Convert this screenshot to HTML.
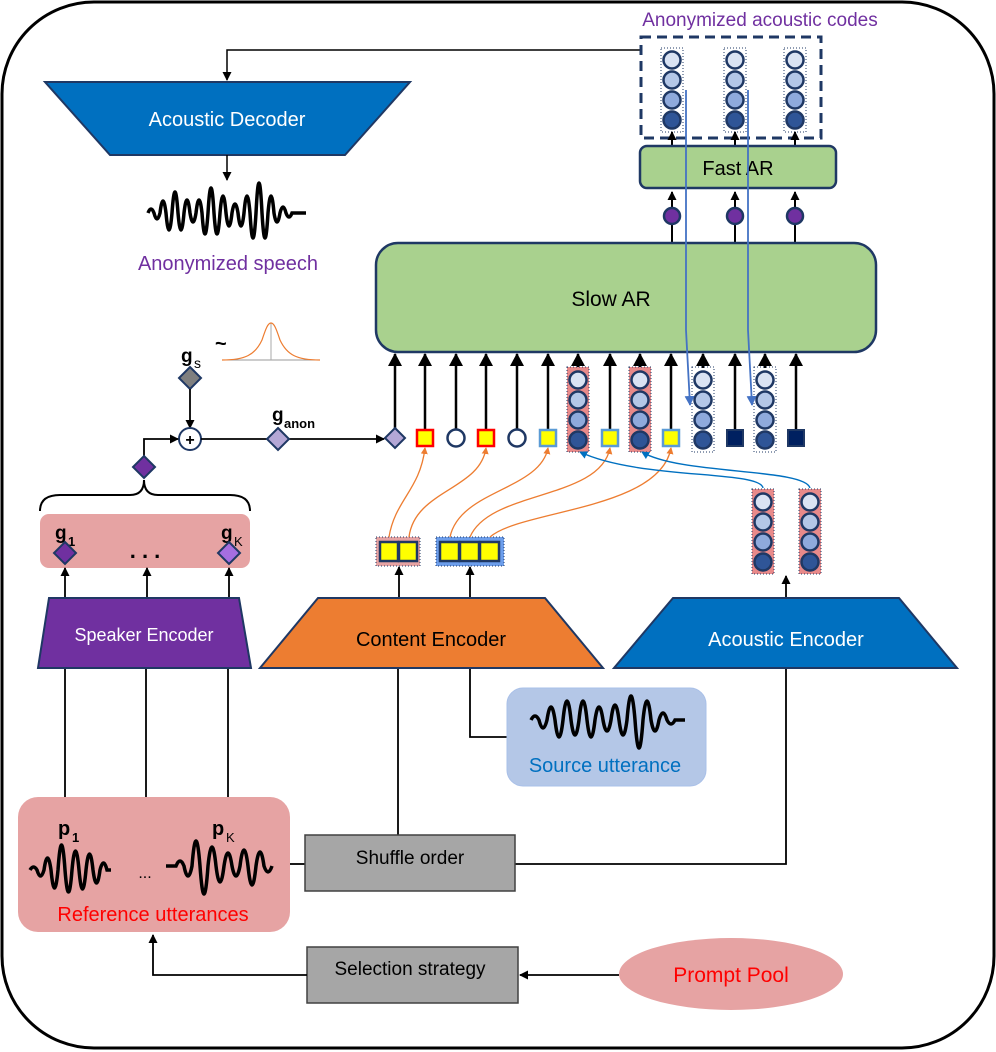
<!DOCTYPE html>
<html><head><meta charset="utf-8"><style>
html,body{margin:0;padding:0;background:#fff}
svg{display:block}
text{font-family:"Liberation Sans",sans-serif}
</style></head><body>
<svg width="996" height="1052" viewBox="0 0 996 1052" xmlns="http://www.w3.org/2000/svg">
<defs>
<marker id="ah" markerWidth="9" markerHeight="9" refX="8" refY="4.5" orient="auto" markerUnits="userSpaceOnUse"><path d="M0,0 L9,4.5 L0,9 z" fill="#000"/></marker>
<marker id="ahb" markerWidth="14" markerHeight="14" refX="12" refY="7" orient="auto" markerUnits="userSpaceOnUse"><path d="M0,0 L13,7 L0,14 z" fill="#000"/></marker>
<marker id="ao" markerWidth="7" markerHeight="7" refX="6" refY="3.5" orient="auto" markerUnits="userSpaceOnUse"><path d="M0,0 L7,3.5 L0,7 z" fill="#ed7d31"/></marker>
<marker id="abl" markerWidth="8" markerHeight="8" refX="7" refY="4" orient="auto" markerUnits="userSpaceOnUse"><path d="M0,0 L8,4 L0,8 z" fill="#0070c0"/></marker>
<marker id="abl2" markerWidth="10" markerHeight="10" refX="9" refY="5" orient="auto" markerUnits="userSpaceOnUse"><path d="M0,0 L10,5 L0,10 z" fill="#4472c4"/></marker>
<g id="col">
<circle cx="0" cy="0" r="8.5" fill="#dae3f3" stroke="#1f3864" stroke-width="2.5"/>
<circle cx="0" cy="20" r="8.5" fill="#b4c7e7" stroke="#1f3864" stroke-width="2.5"/>
<circle cx="0" cy="40" r="8.5" fill="#8faadc" stroke="#1f3864" stroke-width="2.5"/>
<circle cx="0" cy="60" r="8.5" fill="#2f5597" stroke="#1f3864" stroke-width="2.5"/>
</g>
</defs>

<rect x="2" y="2" width="992" height="1046" rx="92" fill="#fff" stroke="#000" stroke-width="3"/>

<!-- Acoustic decoder -->
<polyline points="641,50 227,50 227,80" fill="none" stroke="#000" stroke-width="1.5" marker-end="url(#ah)"/>
<polygon points="45,82 410,82 345,155 110,155" fill="#0070c0" stroke="#1f3864" stroke-width="2"/>
<text x="227" y="126" font-size="20" fill="#fff" text-anchor="middle">Acoustic Decoder</text>
<line x1="227" y1="155" x2="227" y2="180" stroke="#000" stroke-width="1.5" marker-end="url(#ah)"/>
<path d="M148,213 q3,-8 6,0 q3,12 6,0 q3,-24 6,0 q3,34 6,0 q3,-42 6,0 q3,34 6,0 q3,-26 6,0 q3,18 6,0 q3,-26 6,0 q3,42 6,0 q3,-50 6,0 q3,42 6,0 q3,-34 6,0 q3,26 6,0 q3,-18 6,0 q3,26 6,0 q3,-34 6,0 q3,50 6,0 q3,-60 6,0 q3,50 6,0 q3,-34 6,0 q3,18 6,0 q3,-12 6,0 q3,8 6,0 l14,0" fill="none" stroke="#000" stroke-width="3.5"/>
<text x="228" y="270" font-size="20" fill="#7030a0" text-anchor="middle">Anonymized speech</text>

<!-- Anonymized acoustic codes -->
<text x="760" y="26" font-size="19" fill="#7030a0" text-anchor="middle">Anonymized acoustic codes</text>
<rect x="641" y="37" width="180" height="101" fill="none" stroke="#1f3864" stroke-width="3" stroke-dasharray="10,6"/>
<g transform="translate(672,60)"><rect x="-11" y="-12" width="22" height="84" fill="none" stroke="#1f3864" stroke-dasharray="1,2"/><use href="#col"/></g>
<g transform="translate(735,60)"><rect x="-11" y="-12" width="22" height="84" fill="none" stroke="#1f3864" stroke-dasharray="1,2"/><use href="#col"/></g>
<g transform="translate(795,60)"><rect x="-11" y="-12" width="22" height="84" fill="none" stroke="#1f3864" stroke-dasharray="1,2"/><use href="#col"/></g>
<g stroke="#000" stroke-width="2">
<line x1="672" y1="146" x2="672" y2="132" marker-end="url(#ah)"/>
<line x1="735" y1="146" x2="735" y2="132" marker-end="url(#ah)"/>
<line x1="795" y1="146" x2="795" y2="132" marker-end="url(#ah)"/>
</g>
<rect x="640" y="146" width="196" height="42" rx="7" fill="#a9d18e" stroke="#1f3864" stroke-width="2.5"/>
<text x="738" y="175" font-size="20" fill="#000" text-anchor="middle">Fast AR</text>
<g stroke="#000" stroke-width="2">
<line x1="672" y1="243" x2="672" y2="192" marker-end="url(#ah)"/>
<line x1="735" y1="243" x2="735" y2="192" marker-end="url(#ah)"/>
<line x1="795" y1="243" x2="795" y2="192" marker-end="url(#ah)"/>
</g>
<circle cx="672" cy="216" r="8" fill="#7030a0" stroke="#1f3864" stroke-width="2.5"/>
<circle cx="735" cy="216" r="8" fill="#7030a0" stroke="#1f3864" stroke-width="2.5"/>
<circle cx="795" cy="216" r="8" fill="#7030a0" stroke="#1f3864" stroke-width="2.5"/>

<!-- Slow AR -->
<rect x="376" y="243" width="500" height="109" rx="22" fill="#a9d18e" stroke="#1f3864" stroke-width="2.5"/>
<text x="611" y="306" font-size="21" fill="#000" text-anchor="middle">Slow AR</text>

<!-- input arrows -->
<g stroke="#000" stroke-width="2.5">
<line x1="395" y1="430" x2="395" y2="354" marker-end="url(#ahb)"/>
<line x1="425" y1="430" x2="425" y2="354" marker-end="url(#ahb)"/>
<line x1="456" y1="430" x2="456" y2="354" marker-end="url(#ahb)"/>
<line x1="486" y1="430" x2="486" y2="354" marker-end="url(#ahb)"/>
<line x1="517" y1="430" x2="517" y2="354" marker-end="url(#ahb)"/>
<line x1="548" y1="430" x2="548" y2="354" marker-end="url(#ahb)"/>
<line x1="578" y1="368" x2="578" y2="354" marker-end="url(#ahb)"/>
<line x1="610" y1="430" x2="610" y2="354" marker-end="url(#ahb)"/>
<line x1="640" y1="368" x2="640" y2="354" marker-end="url(#ahb)"/>
<line x1="671" y1="430" x2="671" y2="354" marker-end="url(#ahb)"/>
<line x1="703" y1="368" x2="703" y2="354" marker-end="url(#ahb)"/>
<line x1="735" y1="430" x2="735" y2="354" marker-end="url(#ahb)"/>
<line x1="765" y1="368" x2="765" y2="354" marker-end="url(#ahb)"/>
<line x1="796" y1="430" x2="796" y2="354" marker-end="url(#ahb)"/>
</g>
<!-- tokens -->
<polygon points="395,428 405,438 395,448 385,438" fill="#b4a7d6" stroke="#1f3864" stroke-width="2"/>
<rect x="417" y="430" width="16" height="16" fill="#ffff00" stroke="#ff0000" stroke-width="2.5"/>
<circle cx="456" cy="438" r="8.5" fill="#fff" stroke="#1f3864" stroke-width="2.5"/>
<rect x="478" y="430" width="16" height="16" fill="#ffff00" stroke="#ff0000" stroke-width="2.5"/>
<circle cx="517" cy="438" r="8.5" fill="#fff" stroke="#1f3864" stroke-width="2.5"/>
<rect x="540" y="430" width="16" height="16" fill="#ffff00" stroke="#5b9bd5" stroke-width="2.5"/>
<g transform="translate(578,380)"><rect x="-11" y="-13" width="22" height="85" fill="#e88a8a" stroke="#1f3864" stroke-dasharray="1,2"/><use href="#col"/></g>
<rect x="602" y="430" width="16" height="16" fill="#ffff00" stroke="#5b9bd5" stroke-width="2.5"/>
<g transform="translate(640,380)"><rect x="-11" y="-13" width="22" height="85" fill="#e88a8a" stroke="#1f3864" stroke-dasharray="1,2"/><use href="#col"/></g>
<rect x="663" y="430" width="16" height="16" fill="#ffff00" stroke="#5b9bd5" stroke-width="2.5"/>
<g transform="translate(703,380)"><rect x="-11" y="-13" width="22" height="85" fill="none" stroke="#1f3864" stroke-dasharray="1,2"/><use href="#col"/></g>
<rect x="727" y="430" width="16" height="16" fill="#002060" stroke="#1f3864" stroke-width="2"/>
<g transform="translate(765,380)"><rect x="-11" y="-13" width="22" height="85" fill="none" stroke="#1f3864" stroke-dasharray="1,2"/><use href="#col"/></g>
<rect x="788" y="430" width="16" height="16" fill="#002060" stroke="#1f3864" stroke-width="2"/>

<!-- blue feedback lines from fast AR -->
<path d="M686,90 L686,330 L690,405" fill="none" stroke="#4472c4" stroke-width="1.8" marker-end="url(#abl2)"/>
<path d="M748,90 L748,330 L752,405" fill="none" stroke="#4472c4" stroke-width="1.8" marker-end="url(#abl2)"/>

<!-- left speaker path -->
<path d="M222,360 L320,360" stroke="#999" stroke-width="1"/>
<line x1="271" y1="360" x2="271" y2="323" stroke="#aaa" stroke-width="1"/>
<path d="M222,360 C245,360 255,355 262,340 C266,328 268,323 271,323 C274,323 276,328 280,340 C287,355 297,360 320,360" fill="none" stroke="#ed7d31" stroke-width="1.2"/>
<text x="181" y="362" font-size="19" font-weight="bold">g</text><text x="194" y="368" font-size="14">s</text>
<text x="215" y="350" font-size="20" font-weight="bold">~</text>
<polygon points="190,367 201,378 190,389 179,378" fill="#7f7f7f" stroke="#1f3864" stroke-width="2"/>
<line x1="190" y1="389" x2="190" y2="428" stroke="#000" stroke-width="1.8" marker-end="url(#ah)"/>
<circle cx="190" cy="439" r="11" fill="#fff" stroke="#1f3864" stroke-width="2"/>
<text x="190" y="445" font-size="16" font-weight="bold" text-anchor="middle">+</text>
<line x1="201" y1="439" x2="384" y2="439" stroke="#000" stroke-width="1.8" marker-end="url(#ah)"/>
<polygon points="278,428 289,439 278,450 267,439" fill="#b4a7d6" stroke="#1f3864" stroke-width="2"/>
<text x="272" y="421" font-size="19" font-weight="bold">g</text><text x="284" y="428" font-size="13" font-weight="bold">anon</text>
<polyline points="144,456 144,439 178,439" fill="none" stroke="#000" stroke-width="1.8" marker-end="url(#ah)"/>
<polygon points="144,456 155,467 144,478 133,467" fill="#7030a0" stroke="#1f3864" stroke-width="2"/>
<path d="M40,511 Q40,495 60,495 L130,495 Q144,495 144,480 Q144,495 158,495 L230,495 Q250,495 250,511" fill="none" stroke="#000" stroke-width="2"/>
<rect x="40" y="514" width="210" height="54" rx="9" fill="#e6a3a3"/>
<text x="55" y="539" font-size="19" font-weight="bold">g</text><text x="68" y="546" font-size="13" font-weight="bold">1</text>
<text x="221" y="539" font-size="19" font-weight="bold">g</text><text x="234" y="546" font-size="13">K</text>
<polygon points="65,542 76,553 65,564 54,553" fill="#7030a0" stroke="#1f3864" stroke-width="2"/>
<polygon points="229,542 240,553 229,564 218,553" fill="#a66ee0" stroke="#1f3864" stroke-width="2"/>
<text x="145" y="558" font-size="22" font-weight="bold" text-anchor="middle">. . .</text>

<!-- Speaker encoder -->
<g stroke="#000" stroke-width="1.8">
<line x1="65" y1="598" x2="65" y2="568" marker-end="url(#ah)"/>
<line x1="147" y1="598" x2="147" y2="568" marker-end="url(#ah)"/>
<line x1="229" y1="598" x2="229" y2="568" marker-end="url(#ah)"/>
<line x1="65" y1="668" x2="65" y2="797"/>
<line x1="146" y1="668" x2="146" y2="797"/>
<line x1="228" y1="668" x2="228" y2="797"/>
</g>
<polygon points="49,598 239,598 251,668 38,668" fill="#7030a0" stroke="#1f3864" stroke-width="2"/>
<text x="144" y="641" font-size="18" fill="#fff" text-anchor="middle">Speaker Encoder</text>

<!-- content encoder -->
<g stroke="#000" stroke-width="1.8">
<line x1="399" y1="598" x2="399" y2="567" marker-end="url(#ah)"/>
<line x1="470" y1="598" x2="470" y2="567" marker-end="url(#ah)"/>
<line x1="398" y1="668" x2="398" y2="835"/>
<polyline points="470,668 470,737 507,737" fill="none"/>
<line x1="786" y1="598" x2="786" y2="576" marker-end="url(#ah)"/>
<polyline points="786,668 786,864 515,864" fill="none"/>
<line x1="305" y1="864" x2="290" y2="864"/>
</g>
<polygon points="318,598 545,598 603,668 260,668" fill="#ed7d31" stroke="#1f3864" stroke-width="2"/>
<text x="431" y="646" font-size="20" text-anchor="middle">Content Encoder</text>
<polygon points="673,598 899,598 957,668 614,668" fill="#0070c0" stroke="#1f3864" stroke-width="2"/>
<text x="786" y="646" font-size="20" fill="#fff" text-anchor="middle">Acoustic Encoder</text>

<!-- content token groups -->
<rect x="376" y="537" width="44" height="29" fill="#e6a3a3" stroke="#1f3864" stroke-dasharray="1,2"/>
<rect x="380" y="542" width="18" height="19" fill="#ffff00" stroke="#1f3864" stroke-width="2.5"/>
<rect x="399" y="542" width="18" height="19" fill="#ffff00" stroke="#1f3864" stroke-width="2.5"/>
<rect x="436" y="537" width="68" height="29" fill="#6d9eeb" stroke="#1f3864" stroke-dasharray="1,2"/>
<rect x="440" y="542" width="19" height="19" fill="#ffff00" stroke="#1f3864" stroke-width="2.5"/>
<rect x="460" y="542" width="19" height="19" fill="#ffff00" stroke="#1f3864" stroke-width="2.5"/>
<rect x="480" y="542" width="19" height="19" fill="#ffff00" stroke="#1f3864" stroke-width="2.5"/>
<g fill="none" stroke="#ed7d31" stroke-width="1.3">
<path d="M389,537 C395,500 420,490 425,448" marker-end="url(#ao)"/>
<path d="M409,537 C415,490 480,490 486,448" marker-end="url(#ao)"/>
<path d="M450,537 C460,490 540,490 548,448" marker-end="url(#ao)"/>
<path d="M470,537 C490,490 600,500 610,448" marker-end="url(#ao)"/>
<path d="M490,537 C520,510 660,510 671,448" marker-end="url(#ao)"/>
</g>
<!-- acoustic encoder codes -->
<g transform="translate(763,502)"><rect x="-11" y="-13" width="22" height="85" fill="#e88a8a" stroke="#1f3864" stroke-dasharray="1,2"/><use href="#col"/></g>
<g transform="translate(810,502)"><rect x="-11" y="-13" width="22" height="85" fill="#e88a8a" stroke="#1f3864" stroke-dasharray="1,2"/><use href="#col"/></g>
<g fill="none" stroke="#0070c0" stroke-width="1.4">
<path d="M763,488 C760,470 640,480 580,452" marker-end="url(#abl)"/>
<path d="M810,488 C805,468 680,475 642,452" marker-end="url(#abl)"/>
</g>

<!-- source utterance -->
<rect x="507" y="688" width="199" height="98" rx="16" fill="#b4c7e7" stroke="#a9c0e8"/>
<path d="M531,720 q4,-8 8,0 q4,16 8,0 q4,-26 8,0 q4,34 8,0 q4,-38 8,0 q4,30 8,0 q4,-38 8,0 q4,34 8,0 q4,-26 8,0 q4,22 8,0 q4,-30 8,0 q4,30 8,0 q4,-48 8,0 q4,56 8,0 q4,-38 8,0 q4,22 8,0 q4,-14 8,0 q4,8 8,0 l10,0" fill="none" stroke="#000" stroke-width="3.5"/>
<text x="605" y="772" font-size="20" fill="#0070c0" text-anchor="middle">Source utterance</text>

<!-- reference utterances -->
<rect x="18" y="797" width="272" height="135" rx="20" fill="#e6a3a3"/>
<text x="58" y="835" font-size="20" font-weight="bold">p</text><text x="72" y="842" font-size="13" font-weight="bold">1</text>
<text x="212" y="835" font-size="20" font-weight="bold">p</text><text x="226" y="842" font-size="13">K</text>
<path d="M30,870 q3.5,-6 7,0 q3.5,12 7,0 q3.5,-24 7,0 q3.5,36 7,0 q3.5,-50 7,0 q3.5,44 7,0 q3.5,-38 7,0 q3.5,38 7,0 q3.5,-32 7,0 q3.5,26 7,0 q3.5,-14 7,0 l4,0" fill="none" stroke="#000" stroke-width="3.5"/>
<text x="145" y="878" font-size="16" text-anchor="middle">...</text>
<path d="M166,866 l10,0 q4,-10 8,0 q4,20 8,0 q4,-50 8,0 q4,56 8,0 q4,-38 8,0 q4,32 8,0 q4,-26 8,0 q4,20 8,0 q4,-32 8,0 q4,38 8,0 q4,-28 8,0 q4,12 8,0" fill="none" stroke="#000" stroke-width="3.5"/>
<text x="153" y="921" font-size="20" fill="#ff0000" text-anchor="middle">Reference utterances</text>

<!-- shuffle -->
<rect x="305" y="835" width="210" height="56" fill="#a6a6a6" stroke="#404040" stroke-width="1.5"/>
<text x="410" y="864" font-size="19" text-anchor="middle">Shuffle order</text>
<!-- selection -->
<rect x="307" y="947" width="211" height="56" fill="#a6a6a6" stroke="#404040" stroke-width="1.5"/>
<text x="410" y="975" font-size="19" text-anchor="middle">Selection strategy</text>
<polyline points="307,975 153,975 153,935" fill="none" stroke="#000" stroke-width="1.8" marker-end="url(#ah)"/>
<line x1="619" y1="975" x2="520" y2="975" stroke="#000" stroke-width="1.8" marker-end="url(#ah)"/>
<ellipse cx="731" cy="974" rx="112" ry="36" fill="#e6a3a3"/>
<text x="731" y="982" font-size="21" fill="#ff0000" text-anchor="middle">Prompt Pool</text>
</svg>
</body></html>
